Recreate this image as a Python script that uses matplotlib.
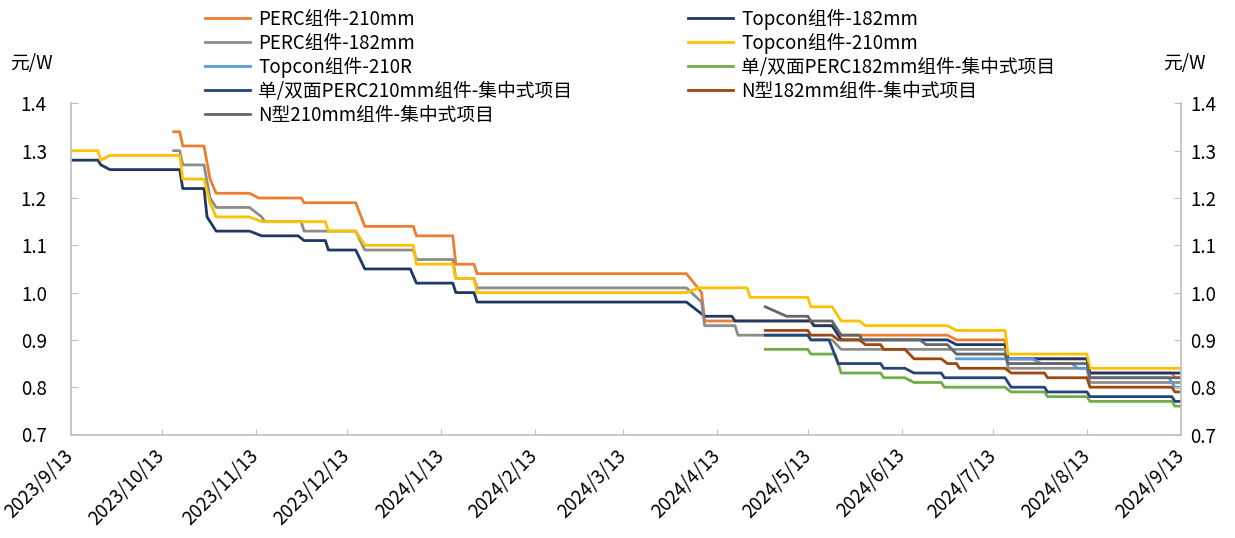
import datetime as dt
import matplotlib
matplotlib.use("Agg")
import matplotlib.pyplot as plt

plt.rcParams["font.family"] = ["Noto Sans CJK SC", "DejaVu Sans"]

# ---- data: (date, price in 元/W) breakpoints per series ----
perc210_dates = ["2023-10-17", "2023-10-19", "2023-10-20", "2023-10-27", "2023-10-29", "2023-10-31",
                 "2023-11-11", "2023-11-14", "2023-11-28", "2023-11-29", "2023-12-16", "2023-12-19",
                 "2024-01-04", "2024-01-05", "2024-01-17", "2024-01-18", "2024-01-24", "2024-01-25",
                 "2024-04-03", "2024-04-08", "2024-04-09", "2024-05-14", "2024-05-15", "2024-05-21",
                 "2024-05-24", "2024-06-28", "2024-07-01", "2024-07-17", "2024-07-18", "2024-08-13",
                 "2024-08-14", "2024-09-10", "2024-09-11", "2024-09-13"]
perc210_vals = [1.34, 1.34, 1.31, 1.31, 1.24, 1.21,
                1.21, 1.20, 1.20, 1.19, 1.19, 1.14,
                1.14, 1.12, 1.12, 1.06, 1.06, 1.04,
                1.04, 1.00, 0.94, 0.94, 0.93, 0.93,
                0.91, 0.91, 0.90, 0.90, 0.86, 0.86,
                0.83, 0.83, 0.82, 0.82]

topcon182_dates = ["2023-09-13", "2023-09-22", "2023-09-23", "2023-09-26", "2023-10-19", "2023-10-20",
                   "2023-10-27", "2023-10-28", "2023-10-31", "2023-11-11", "2023-11-15", "2023-11-27",
                   "2023-11-29", "2023-12-06", "2023-12-07", "2023-12-16", "2023-12-19", "2024-01-03",
                   "2024-01-05", "2024-01-17", "2024-01-18", "2024-01-24", "2024-01-25", "2024-04-03",
                   "2024-04-09", "2024-04-18", "2024-04-19", "2024-05-14", "2024-05-15", "2024-05-21",
                   "2024-05-24", "2024-06-28", "2024-07-01", "2024-07-17", "2024-07-18", "2024-08-13",
                   "2024-08-14", "2024-09-13"]
topcon182_vals = [1.28, 1.28, 1.27, 1.26, 1.26, 1.22,
                  1.22, 1.16, 1.13, 1.13, 1.12, 1.12,
                  1.11, 1.11, 1.09, 1.09, 1.05, 1.05,
                  1.02, 1.02, 1.00, 1.00, 0.98, 0.98,
                  0.95, 0.95, 0.94, 0.94, 0.93, 0.93,
                  0.90, 0.90, 0.89, 0.89, 0.86, 0.86,
                  0.83, 0.83]

perc182_dates = ["2023-10-17", "2023-10-19", "2023-10-20", "2023-10-27", "2023-10-29", "2023-10-31",
                 "2023-11-11", "2023-11-15", "2023-11-16", "2023-11-28", "2023-11-29", "2023-12-16",
                 "2023-12-19", "2024-01-04", "2024-01-05", "2024-01-17", "2024-01-18", "2024-01-24",
                 "2024-01-25", "2024-04-03", "2024-04-08", "2024-04-09", "2024-04-19", "2024-04-20",
                 "2024-05-13", "2024-05-14", "2024-05-21", "2024-05-24", "2024-06-28", "2024-07-01",
                 "2024-07-17", "2024-07-18", "2024-08-13", "2024-08-14", "2024-09-13"]
perc182_vals = [1.30, 1.30, 1.27, 1.27, 1.20, 1.18,
                1.18, 1.16, 1.15, 1.15, 1.13, 1.13,
                1.09, 1.09, 1.07, 1.07, 1.03, 1.03,
                1.01, 1.01, 0.98, 0.93, 0.93, 0.91,
                0.91, 0.90, 0.90, 0.88, 0.88, 0.88,
                0.88, 0.84, 0.84, 0.81, 0.81]

topcon210_dates = ["2023-09-13", "2023-09-22", "2023-09-23", "2023-09-26", "2023-10-19", "2023-10-20",
                   "2023-10-27", "2023-10-29", "2023-10-31", "2023-11-11", "2023-11-15", "2023-12-06",
                   "2023-12-07", "2023-12-16", "2023-12-19", "2024-01-04", "2024-01-05", "2024-01-17",
                   "2024-01-18", "2024-01-24", "2024-01-25", "2024-04-03", "2024-04-07", "2024-04-23",
                   "2024-04-24", "2024-05-13", "2024-05-14", "2024-05-21", "2024-05-23", "2024-05-24",
                   "2024-05-30", "2024-06-01", "2024-06-28", "2024-07-01", "2024-07-17", "2024-07-18",
                   "2024-08-13", "2024-08-14", "2024-09-13"]
topcon210_vals = [1.30, 1.30, 1.28, 1.29, 1.29, 1.24,
                  1.24, 1.19, 1.16, 1.16, 1.15, 1.15,
                  1.13, 1.13, 1.10, 1.10, 1.06, 1.06,
                  1.03, 1.03, 1.00, 1.00, 1.01, 1.01,
                  0.99, 0.99, 0.97, 0.97, 0.95, 0.94,
                  0.94, 0.93, 0.93, 0.92, 0.92, 0.87,
                  0.87, 0.84, 0.84]

topcon210r_dates = ["2024-07-01", "2024-07-26", "2024-07-29", "2024-08-08", "2024-08-10", "2024-08-13",
                    "2024-08-14", "2024-09-09", "2024-09-11", "2024-09-13"]
topcon210r_vals = [0.86, 0.86, 0.85, 0.85, 0.84, 0.84,
                   0.82, 0.82, 0.80, 0.80]

perc182_central_dates = ["2024-04-29", "2024-05-13", "2024-05-14", "2024-05-22", "2024-05-24", "2024-06-06",
                         "2024-06-07", "2024-06-14", "2024-06-17", "2024-06-26", "2024-06-27", "2024-07-17",
                         "2024-07-19", "2024-07-30", "2024-07-31", "2024-08-13", "2024-08-14", "2024-09-10",
                         "2024-09-11", "2024-09-13"]
perc182_central_vals = [0.88, 0.88, 0.87, 0.87, 0.83, 0.83,
                        0.82, 0.82, 0.81, 0.81, 0.80, 0.80,
                        0.79, 0.79, 0.78, 0.78, 0.77, 0.77,
                        0.76, 0.76]

perc210_central_dates = ["2024-04-29", "2024-05-13", "2024-05-14", "2024-05-20", "2024-05-23", "2024-06-06",
                         "2024-06-07", "2024-06-14", "2024-06-17", "2024-06-26", "2024-06-27", "2024-07-17",
                         "2024-07-19", "2024-07-30", "2024-07-31", "2024-08-13", "2024-08-14", "2024-09-10",
                         "2024-09-11", "2024-09-13"]
perc210_central_vals = [0.91, 0.91, 0.90, 0.90, 0.85, 0.85,
                        0.84, 0.84, 0.83, 0.83, 0.82, 0.82,
                        0.80, 0.80, 0.79, 0.79, 0.78, 0.78,
                        0.77, 0.77]

n182_dates = ["2024-04-29", "2024-05-13", "2024-05-14", "2024-05-21", "2024-05-23", "2024-05-30",
              "2024-06-01", "2024-06-06", "2024-06-07", "2024-06-14", "2024-06-17", "2024-06-26",
              "2024-06-28", "2024-07-01", "2024-07-02", "2024-07-17", "2024-07-19", "2024-07-30",
              "2024-07-31", "2024-08-13", "2024-08-14", "2024-09-10", "2024-09-11", "2024-09-13"]
n182_vals = [0.92, 0.92, 0.91, 0.91, 0.90, 0.90,
             0.89, 0.89, 0.88, 0.88, 0.86, 0.86,
             0.85, 0.85, 0.84, 0.84, 0.83, 0.83,
             0.82, 0.82, 0.80, 0.80, 0.79, 0.79]

n210_dates = ["2024-04-29", "2024-05-06", "2024-05-13", "2024-05-14", "2024-05-21", "2024-05-24",
              "2024-05-30", "2024-05-31", "2024-06-19", "2024-06-21", "2024-06-28", "2024-07-01",
              "2024-07-17", "2024-07-18", "2024-08-13", "2024-08-14", "2024-09-13"]
n210_vals = [0.97, 0.95, 0.95, 0.94, 0.94, 0.91,
             0.91, 0.90, 0.90, 0.89, 0.89, 0.87,
             0.87, 0.85, 0.85, 0.82, 0.82]

# ---- axis settings ----
x_start, x_end = "2023-09-13", "2024-09-13"
tick_dates = ["2023-09-13", "2023-10-13", "2023-11-13", "2023-12-13", "2024-01-13", "2024-02-13",
              "2024-03-13", "2024-04-13", "2024-05-13", "2024-06-13", "2024-07-13", "2024-08-13",
              "2024-09-13"]
tick_labels = ["2023/9/13", "2023/10/13", "2023/11/13", "2023/12/13", "2024/1/13", "2024/2/13",
               "2024/3/13", "2024/4/13", "2024/5/13", "2024/6/13", "2024/7/13", "2024/8/13",
               "2024/9/13"]
y_ticks = [0.7, 0.8, 0.9, 1.0, 1.1, 1.2, 1.3, 1.4]
unit = "元/W"


def to_dt(seq):
    return [dt.datetime.strptime(s, "%Y-%m-%d") for s in seq]


# plotting order (later series drawn on top)
series = [
    ("PERC组件-210mm", perc210_dates, perc210_vals, "#ED7D31"),
    ("Topcon组件-182mm", topcon182_dates, topcon182_vals, "#203864"),
    ("PERC组件-182mm", perc182_dates, perc182_vals, "#8C8C8C"),
    ("Topcon组件-210mm", topcon210_dates, topcon210_vals, "#FFC000"),
    ("Topcon组件-210R", topcon210r_dates, topcon210r_vals, "#5B9BD5"),
    ("单/双面PERC182mm组件-集中式项目", perc182_central_dates, perc182_central_vals, "#70AD47"),
    ("单/双面PERC210mm组件-集中式项目", perc210_central_dates, perc210_central_vals, "#264478"),
    ("N型182mm组件-集中式项目", n182_dates, n182_vals, "#9E480E"),
    ("N型210mm组件-集中式项目", n210_dates, n210_vals, "#666666"),
]

FS = 13.5

fig = plt.figure(figsize=(12.35, 5.38), dpi=100)
ax = fig.add_axes([70.5 / 1235, 1 - 434.5 / 538, (1181 - 70.5) / 1235, (434.5 - 103.4) / 538])

handles = {}
for name, ds, vs, color in series:
    (ln,) = ax.plot(to_dt(ds), vs, color=color, lw=2.0, solid_joinstyle="round", label=name)
    handles[name] = ln

ax.set_xlim(to_dt([x_start])[0], to_dt([x_end])[0])
ax.set_ylim(0.7, 1.4)
ax.set_yticks(y_ticks)
ax.set_yticklabels([f"{v:.1f}" for v in y_ticks])
ax.set_xticks(to_dt(tick_dates))
ax.set_xticklabels(tick_labels, rotation=45, ha="right", va="center", rotation_mode="anchor")

spine_color = "#BFBFBF"
for side in ["left", "right", "bottom"]:
    ax.spines[side].set_color(spine_color)
    ax.spines[side].set_linewidth(1.2)
ax.spines["top"].set_visible(False)
ax.tick_params(axis="x", direction="in", length=4, color=spine_color, labelsize=FS, pad=13,
               labelcolor="#000000")
ax.tick_params(axis="y", direction="in", length=5, color=spine_color, labelsize=FS, pad=17,
               labelcolor="#000000")

ax2 = ax.twinx()
ax2.set_ylim(0.7, 1.4)
ax2.set_yticks(y_ticks)
ax2.set_yticklabels([f"{v:.1f}" for v in y_ticks])
for side in ["left", "right", "bottom", "top"]:
    ax2.spines[side].set_visible(False)
ax2.tick_params(axis="y", direction="in", length=5, color=spine_color, labelsize=FS, pad=6.5)

fig.text(10 / 1235, 1 - 63 / 538, unit, fontsize=FS, va="center", ha="left")
fig.text(1163 / 1235, 1 - 63 / 538, unit, fontsize=FS, va="center", ha="left")

col1 = ["PERC组件-210mm", "PERC组件-182mm", "Topcon组件-210R",
        "单/双面PERC210mm组件-集中式项目", "N型210mm组件-集中式项目"]
col2 = ["Topcon组件-182mm", "Topcon组件-210mm",
        "单/双面PERC182mm组件-集中式项目", "N型182mm组件-集中式项目"]
leg_kw = dict(frameon=False, fontsize=FS, handlelength=2.4, handletextpad=0.45,
              labelspacing=0.16, borderpad=0, borderaxespad=0, loc="upper left")
leg1 = fig.legend([handles[n] for n in col1], col1,
                  bbox_to_anchor=(205 / 1235, 1 - 8.5 / 538), **leg_kw)
leg2 = fig.legend([handles[n] for n in col2], col2,
                  bbox_to_anchor=(688 / 1235, 1 - 8.5 / 538), **leg_kw)

fig.savefig("out.png", dpi=100)
